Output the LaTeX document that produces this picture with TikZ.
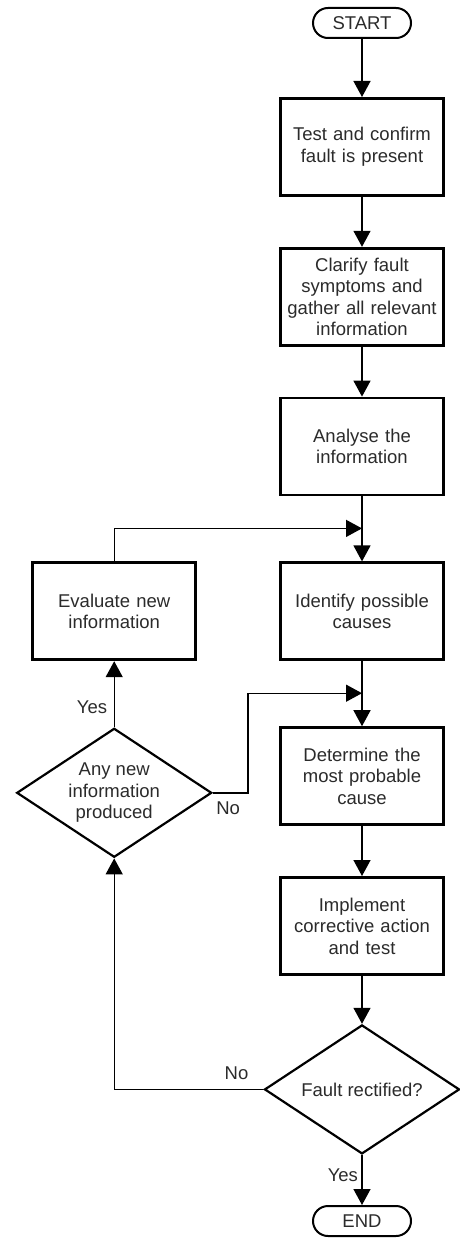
\documentclass[tikz,border=0pt]{standalone}
\usepackage{fontspec}
\setmainfont{Liberation Sans}
\usepackage{xcolor}
\usepackage{tikz}
\usetikzlibrary{arrows.meta,calc,positioning,shapes.geometric}
\definecolor{fdink}{HTML}{000000}
\definecolor{fdtext}{HTML}{2B2B2B}
\newcommand{\fdfont}{\fontsize{18.5}{21.5}\selectfont}
\tikzset{%
  fdbox/.style={%
    draw=fdink,
    fill=white,
    line width=2.8pt,
    minimum width=163pt,
    minimum height=97pt,
    text width=150pt,
    align=center,
    text=fdtext,
    font=\fdfont
  },
  fdterminal/.style={%
    draw=fdink,
    fill=white,
    line width=2pt,
    rounded corners=15pt,
    minimum width=98pt,
    minimum height=30pt,
    text=fdtext,
    font=\fdfont
  },
  fddecision/.style={%
    diamond,
    draw=fdink,
    fill=white,
    line width=2.2pt,
    aspect=1.5,
    inner sep=0pt,
    minimum width=195pt,
    minimum height=129pt,
    align=center,
    text=fdtext,
    font=\fdfont
  },
  fdlabel/.style={text=fdtext,font=\fdfont},
  fdarrow/.style={-{Triangle[length=16pt,width=17pt]},line width=1.4pt,draw=fdink}
}
\begin{document}
\begin{tikzpicture}
  \useasboundingbox (0,0) rectangle (460pt,-1244pt);

  \node[fdterminal] (start) at (362pt,-23pt) {START};
  \node[fdbox,below=58pt of start] (confirm) {Test and confirm\\fault is present};
  \node[fdbox,below=50pt of confirm] (clarify) {Clarify fault\\symptoms and\\gather all relevant\\information};
  \node[fdbox,below=50pt of clarify] (analyse) {Analyse the\\information};
  \node[fdbox,below=65pt of analyse] (identify) {Identify possible\\causes};
  \node[fdbox,below=65pt of identify] (probable) {Determine the\\most probable\\cause};
  \node[fdbox,below=50pt of probable] (implement) {Implement\\corrective action\\and test};
  \node[fddecision,below=48pt of implement] (rectified) {Fault rectified?};
  \node[fdterminal,below=50pt of rectified] (finish) {END};

  \node[fdbox,left=82pt of identify] (evaluate) {Evaluate new\\information};
  \node[fddecision,below=66pt of evaluate] (newinfo) {Any new\\information\\produced};

  \coordinate (join1) at ($(identify.north)+(0,33pt)$);
  \coordinate (join2) at ($(probable.north)+(0,33pt)$);

  \draw[fdarrow] (start) -- (confirm);
  \draw[fdarrow] (confirm) -- (clarify);
  \draw[fdarrow] (clarify) -- (analyse);
  \draw[fdarrow] (analyse) -- (identify);
  \draw[fdarrow] (identify) -- (probable);
  \draw[fdarrow] (probable) -- (implement);
  \draw[fdarrow] (implement) -- (rectified);
  \draw[fdarrow] (rectified) -- node[fdlabel,pos=0.4,left] (yesend) {Yes} (finish);

  \draw[fdarrow] (rectified.west) -| node[fdlabel,pos=0.09,above=6pt] (noloop) {No} (newinfo.south);
  \draw[fdarrow] (newinfo.north) -- node[fdlabel,pos=0.3,left=3pt] (yesnew) {Yes} (evaluate.south);
  \draw[fdarrow] (evaluate.north) |- (join1);
  \draw[fdarrow] (newinfo.east) -- ++(35pt,0) |- (join2);
  \node[fdlabel,anchor=north west] (nonew) at ([yshift=-5pt]newinfo.east) {No};
\end{tikzpicture}
\end{document}
